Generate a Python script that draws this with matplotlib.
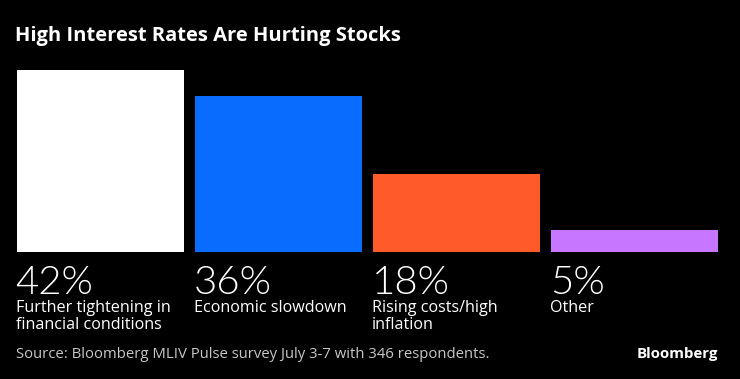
import matplotlib.pyplot as plt

categories = ['Further tightening in\nfinancial conditions', 'Economic slowdown',
              'Rising costs/high\ninflation', 'Other']
values = [42, 36, 18, 5]
colors = ['#ffffff', '#0a6cff', '#ff5a2a', '#c676ff']

W, H = 740, 379
fig = plt.figure(figsize=(W / 100, H / 100), dpi=100, facecolor='black')

# bar area: left 17px, right 718px, baseline 252px, top (42%) at 70px
ax = fig.add_axes([17 / W, 1 - 252 / H, 701 / W, 182 / H])
ax.set_facecolor('black')
pos = list(range(len(values)))
bw = 0.936
ax.bar(pos, values, width=bw, color=colors)
ax.set_xlim(-bw / 2, len(values) - 1 + bw / 2)
ax.set_ylim(0, 42)
ax.axis('off')

for p, v, c in zip(pos, values, categories):
    ax.annotate(f'{v}%', (p - bw / 2, 0), xytext=(-1, -30.5), textcoords='offset points',
                ha='left', va='baseline', color='white', fontsize=29,
                fontweight=300, family='Lato')
    ax.annotate(c, (p - bw / 2, 0), xytext=(-1, -34.5), textcoords='offset points',
                ha='left', va='top', color='white', fontsize=11.6, family='Open Sans',
                linespacing=1.12)

fig.text(15 / W, 1 - 36 / H, 'High Interest Rates Are Hurting Stocks', color='white',
         fontsize=14.5, fontweight='bold', family='Open Sans', ha='left', va='center')
fig.text(16 / W, 1 - 355 / H, 'Source: Bloomberg MLIV Pulse survey July 3-7 with 346 respondents.',
         color='#c8c8c8', fontsize=10.75, family='Open Sans', ha='left', va='center')
fig.text(718 / W, 1 - 354 / H, 'Bloomberg', color='white', fontsize=10.8,
         fontweight='bold', family='Open Sans', ha='right', va='center')

fig.savefig('out.png', dpi=100, facecolor='black')
